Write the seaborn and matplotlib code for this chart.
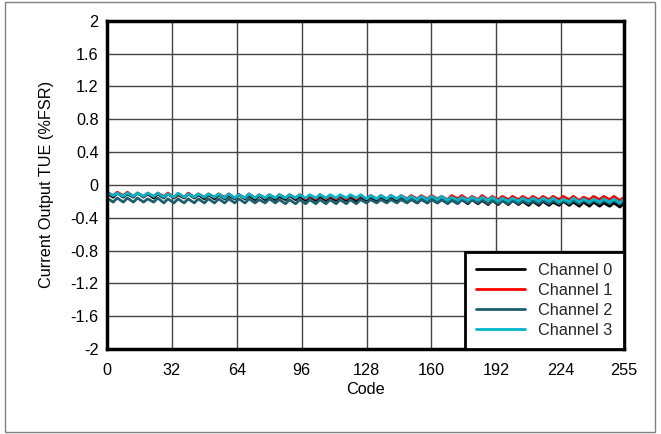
import numpy as np
import pandas as pd
import matplotlib
matplotlib.use("Agg")
import matplotlib.pyplot as plt
import seaborn as sns
from matplotlib.patches import Rectangle
from matplotlib.lines import Line2D

# ---- data ----
channels = ["Channel 0", "Channel 1", "Channel 2", "Channel 3"]
colors = ["#000000", "#ff0000", "#1d5f6e", "#00b6c8"]
x_ticks = [0, 32, 64, 96, 128, 160, 192, 224, 255]
y_ticks = [-2, -1.6, -1.2, -0.8, -0.4, 0, 0.4, 0.8, 1.2, 1.6, 2]
y_tick_labels = ["-2", "-1.6", "-1.2", "-0.8", "-0.4", "0", "0.4", "0.8", "1.2", "1.6", "2"]

peak_codes = list(range(0, 256, 5))      # 52 codes
trough_codes = list(range(3, 256, 5))    # 51 codes

ch0_peak = [-0.10,-0.10,-0.11,-0.10,-0.11,-0.11,-0.11,-0.12,-0.11,-0.12,
            -0.12,-0.12,-0.13,-0.12,-0.13,-0.13,-0.13,-0.14,-0.13,-0.14,
            -0.14,-0.14,-0.15,-0.14,-0.15,-0.15,-0.15,-0.16,-0.16,-0.16,
            -0.17,-0.17,-0.17,-0.18,-0.17,-0.18,-0.18,-0.19,-0.19,-0.19,
            -0.19,-0.20,-0.20,-0.20,-0.21,-0.20,-0.21,-0.21,-0.21,-0.22,
            -0.22,-0.22]
ch0_trough = [-0.15,-0.15,-0.15,-0.15,-0.16,-0.16,-0.16,-0.16,-0.16,-0.17,
              -0.17,-0.17,-0.17,-0.17,-0.18,-0.18,-0.18,-0.18,-0.18,-0.19,
              -0.19,-0.19,-0.19,-0.19,-0.20,-0.20,-0.20,-0.21,-0.21,-0.21,
              -0.22,-0.22,-0.22,-0.22,-0.22,-0.23,-0.23,-0.24,-0.24,-0.24,
              -0.24,-0.25,-0.25,-0.25,-0.25,-0.25,-0.26,-0.26,-0.26,-0.26,
              -0.27]

ch1_peak = [-0.09,-0.09,-0.09,-0.10,-0.10,-0.10,-0.10,-0.11,-0.10,-0.11,
            -0.11,-0.11,-0.11,-0.12,-0.11,-0.12,-0.12,-0.12,-0.12,-0.12,
            -0.13,-0.12,-0.13,-0.13,-0.13,-0.13,-0.13,-0.13,-0.13,-0.13,
            -0.13,-0.13,-0.13,-0.14,-0.13,-0.13,-0.14,-0.13,-0.14,-0.14,
            -0.14,-0.14,-0.14,-0.14,-0.14,-0.14,-0.14,-0.15,-0.14,-0.14,
            -0.14,-0.15]
ch1_trough = [-0.13,-0.13,-0.14,-0.14,-0.14,-0.14,-0.15,-0.15,-0.15,-0.15,
              -0.15,-0.15,-0.16,-0.16,-0.16,-0.16,-0.16,-0.16,-0.16,-0.17,
              -0.17,-0.17,-0.17,-0.17,-0.17,-0.17,-0.17,-0.17,-0.17,-0.17,
              -0.17,-0.17,-0.17,-0.18,-0.17,-0.18,-0.18,-0.18,-0.18,-0.18,
              -0.18,-0.18,-0.18,-0.18,-0.18,-0.18,-0.19,-0.18,-0.18,-0.18,
              -0.19]

ch2_peak = [-0.16,-0.16,-0.16,-0.16,-0.17,-0.16,-0.17,-0.17,-0.17,-0.17,
            -0.17,-0.17,-0.17,-0.17,-0.17,-0.18,-0.17,-0.18,-0.18,-0.18,
            -0.18,-0.18,-0.18,-0.18,-0.18,-0.18,-0.18,-0.18,-0.18,-0.18,
            -0.18,-0.18,-0.18,-0.18,-0.19,-0.18,-0.18,-0.18,-0.19,-0.19,
            -0.19,-0.19,-0.19,-0.19,-0.19,-0.19,-0.19,-0.19,-0.19,-0.19,
            -0.19,-0.19]
ch2_trough = [-0.21,-0.21,-0.21,-0.21,-0.21,-0.22,-0.22,-0.22,-0.22,-0.22,
              -0.22,-0.22,-0.22,-0.22,-0.22,-0.22,-0.22,-0.23,-0.23,-0.23,
              -0.23,-0.23,-0.23,-0.23,-0.23,-0.22,-0.22,-0.22,-0.22,-0.22,
              -0.22,-0.22,-0.22,-0.23,-0.23,-0.22,-0.22,-0.23,-0.23,-0.23,
              -0.23,-0.23,-0.23,-0.23,-0.23,-0.23,-0.23,-0.23,-0.23,-0.23,
              -0.23]

ch3_peak = [-0.09,-0.10,-0.10,-0.10,-0.10,-0.10,-0.11,-0.10,-0.11,-0.11,
            -0.11,-0.11,-0.11,-0.12,-0.11,-0.12,-0.12,-0.12,-0.12,-0.12,
            -0.12,-0.12,-0.12,-0.12,-0.12,-0.12,-0.13,-0.13,-0.13,-0.13,
            -0.14,-0.14,-0.14,-0.14,-0.15,-0.15,-0.15,-0.15,-0.15,-0.16,
            -0.16,-0.16,-0.16,-0.16,-0.16,-0.17,-0.16,-0.17,-0.17,-0.17,
            -0.17,-0.17]
ch3_trough = [-0.13,-0.14,-0.14,-0.14,-0.14,-0.15,-0.15,-0.15,-0.15,-0.15,
              -0.15,-0.16,-0.16,-0.16,-0.16,-0.16,-0.16,-0.16,-0.16,-0.16,
              -0.16,-0.16,-0.16,-0.16,-0.16,-0.17,-0.17,-0.17,-0.17,-0.18,
              -0.18,-0.18,-0.18,-0.19,-0.19,-0.19,-0.19,-0.19,-0.20,-0.20,
              -0.20,-0.20,-0.20,-0.20,-0.21,-0.21,-0.21,-0.21,-0.21,-0.21,
              -0.22]

series = {
    "Channel 0": (ch0_peak, ch0_trough),
    "Channel 1": (ch1_peak, ch1_trough),
    "Channel 2": (ch2_peak, ch2_trough),
    "Channel 3": (ch3_peak, ch3_trough),
}

rows = []
for name in channels:
    pk, tr = series[name]
    for c, v in zip(peak_codes, pk):
        rows.append((name, c, v))
    for c, v in zip(trough_codes, tr):
        rows.append((name, c, v))
df = pd.DataFrame(rows, columns=["Channel", "Code", "TUE"]).sort_values(["Channel", "Code"])

# ---- plot ----
sns.set_theme(style="white")
plt.rcParams["font.family"] = ["Liberation Sans", "DejaVu Sans"]
FS = 11.7

fig = plt.figure(figsize=(6.61, 4.34), dpi=100)
ax = fig.add_axes([0.162, 0.196, 0.782, 0.756])

sns.lineplot(data=df, x="Code", y="TUE", hue="Channel", hue_order=channels,
             palette=colors, linewidth=2.0, sort=True, estimator=None,
             legend=False, ax=ax)

ax.set_xlim(0, 255)
ax.set_ylim(-2, 2)
ax.set_xticks(x_ticks)
ax.set_xticklabels([str(t) for t in x_ticks], fontsize=FS)
ax.set_yticks(y_ticks)
ax.set_yticklabels(y_tick_labels, fontsize=FS)
ax.tick_params(axis="y", length=0, pad=6, colors="black")
ax.tick_params(axis="x", length=0, pad=10, colors="black")
ax.grid(True, color="#444444", linewidth=1.0)
for s in ax.spines.values():
    s.set_visible(True)
    s.set_color("black")
    s.set_linewidth(2.5)
ax.set_xlabel("Code", fontsize=FS, labelpad=3, color="black")
ax.set_ylabel("Current Output TUE (%FSR)", fontsize=FS, labelpad=12, color="black")

handles = [Line2D([0], [0], color=c, lw=2.0) for c in colors]
leg = ax.legend(handles, channels, loc="lower right", fontsize=FS,
                frameon=True, fancybox=False, borderaxespad=0.0,
                handlelength=3.0, handletextpad=0.8, labelspacing=0.3,
                borderpad=0.7)
leg.get_frame().set_edgecolor("black")
leg.get_frame().set_linewidth(2.0)
leg.get_frame().set_alpha(1)

fig.patches.append(Rectangle((0.008, 0.005), 0.983, 0.99, transform=fig.transFigure,
                             fill=False, edgecolor="#808080", linewidth=1.0))

fig.savefig("out.png", dpi=100)
